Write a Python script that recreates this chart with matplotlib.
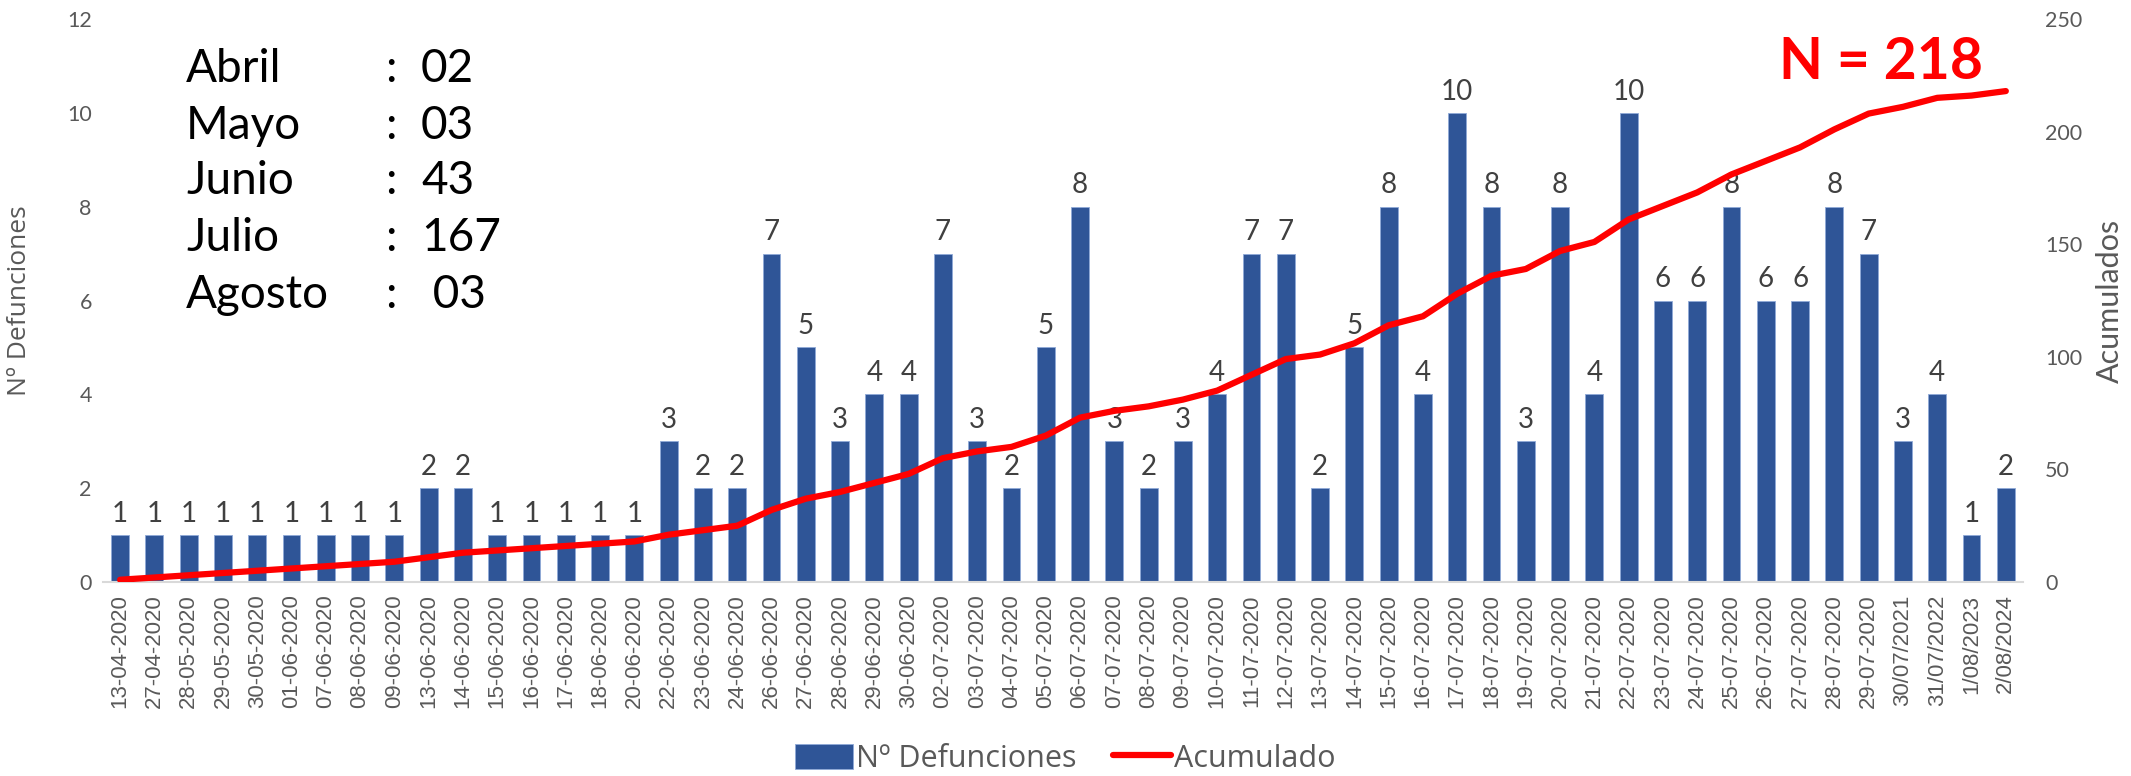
import numpy as np
import matplotlib
matplotlib.use('Agg')
import matplotlib.pyplot as plt

plt.rcParams['font.family'] = ['Lato', 'DejaVu Sans']

# datos
fechas = ['13-04-2020', '27-04-2020', '28-05-2020', '29-05-2020', '30-05-2020', '01-06-2020',
          '07-06-2020', '08-06-2020', '09-06-2020', '13-06-2020', '14-06-2020', '15-06-2020',
          '16-06-2020', '17-06-2020', '18-06-2020', '20-06-2020', '22-06-2020', '23-06-2020',
          '24-06-2020', '26-06-2020', '27-06-2020', '28-06-2020', '29-06-2020', '30-06-2020',
          '02-07-2020', '03-07-2020', '04-07-2020', '05-07-2020', '06-07-2020', '07-07-2020',
          '08-07-2020', '09-07-2020', '10-07-2020', '11-07-2020', '12-07-2020', '13-07-2020',
          '14-07-2020', '15-07-2020', '16-07-2020', '17-07-2020', '18-07-2020', '19-07-2020',
          '20-07-2020', '21-07-2020', '22-07-2020', '23-07-2020', '24-07-2020', '25-07-2020',
          '26-07-2020', '27-07-2020', '28-07-2020', '29-07-2020', '30/07/2021', '31/07/2022',
          '1/08/2023', '2/08/2024']
defunciones = [1, 1, 1, 1, 1, 1, 1, 1, 1, 2, 2, 1, 1, 1, 1, 1, 3, 2, 2, 7, 5, 3, 4, 4,
               7, 3, 2, 5, 8, 3, 2, 3, 4, 7, 7, 2, 5, 8, 4, 10, 8, 3, 8, 4, 10, 6, 6, 8,
               6, 6, 8, 7, 3, 4, 1, 2]
acumulado = np.cumsum(defunciones)

meses = ['Abril', 'Mayo', 'Junio', 'Julio', 'Agosto']
meses_valor = ['02', '03', '43', '167', ' 03']

gris = '#595959'

fig = plt.figure(figsize=(21.31, 7.76), dpi=100)
ax1 = fig.add_axes([0.0483, 0.25, 0.9010, 0.7255])
ax2 = ax1.twinx()

x = np.arange(len(fechas))
barras = ax1.bar(x, defunciones, width=0.52, color='#2F5597', edgecolor='#8FA9D8',
                 linewidth=0.6, label='Nº Defunciones', zorder=2)
linea, = ax2.plot(x, acumulado, color='#FF0000', linewidth=4.5, solid_capstyle='round',
                  solid_joinstyle='round', label='Acumulado', zorder=3)

# etiquetas de datos
for xi, v in zip(x, defunciones):
    ax1.annotate(str(v), (xi, v), xytext=(0, 6), textcoords='offset points',
                 ha='center', va='bottom', fontsize=20, color='#404040')

ax1.set_xlim(-0.5, len(fechas) - 0.5)
ax1.set_ylim(0, 12)
ax1.set_yticks(range(0, 13, 2))
ax2.set_ylim(0, 250)
ax2.set_yticks(range(0, 251, 50))

ax1.set_xticks(x)
ax1.set_xticklabels(fechas, rotation=90, fontsize=16, color=gris, family='Liberation Sans')
ax1.tick_params(axis='x', length=0, pad=9)
ax1.tick_params(axis='y', length=0, labelsize=15.5, labelcolor=gris, pad=8)
ax2.tick_params(axis='y', length=0, labelsize=15.5, labelcolor=gris, pad=16)

for a in (ax1, ax2):
    for s in ['top', 'left', 'right', 'bottom']:
        a.spines[s].set_visible(False)
ax1.spines['bottom'].set_visible(True)
ax1.spines['bottom'].set_color('#D9D9D9')
ax1.spines['bottom'].set_linewidth(1.5)

ax1.set_ylabel('Nº Defunciones', fontsize=19, color=gris, family=['Open Sans', 'DejaVu Sans'])
ax1.yaxis.set_label_coords(-0.037, 0.5)
ax2.set_ylabel('Acumulados', fontsize=22, color=gris, rotation=90)
ax2.yaxis.set_label_coords(1.038, 0.5)

# resumen por mes
ys = [0.894, 0.821, 0.750, 0.677, 0.603]
for m, v, yy in zip(meses, meses_valor, ys):
    fig.text(0.0873, yy, m, fontsize=33, color='black', va='baseline')
    fig.text(0.1807, yy, ':', fontsize=33, color='black', va='baseline')
    fig.text(0.1976, yy, v, fontsize=33, color='black', va='baseline')

fig.text(0.835, 0.898, 'N = 218', fontsize=41, fontweight='bold', color='#FF0000', va='baseline')

fig.legend([barras, linea], ['Nº Defunciones', 'Acumulado'], loc='lower center',
           bbox_to_anchor=(0.5, -0.033), ncol=2, frameon=False,
           prop={'family': ['Open Sans', 'DejaVu Sans'], 'size': 22},
           labelcolor=gris, handlelength=1.9, handleheight=0.9, handletextpad=0.1,
           columnspacing=1.2)

fig.savefig('out.png', dpi=100)
